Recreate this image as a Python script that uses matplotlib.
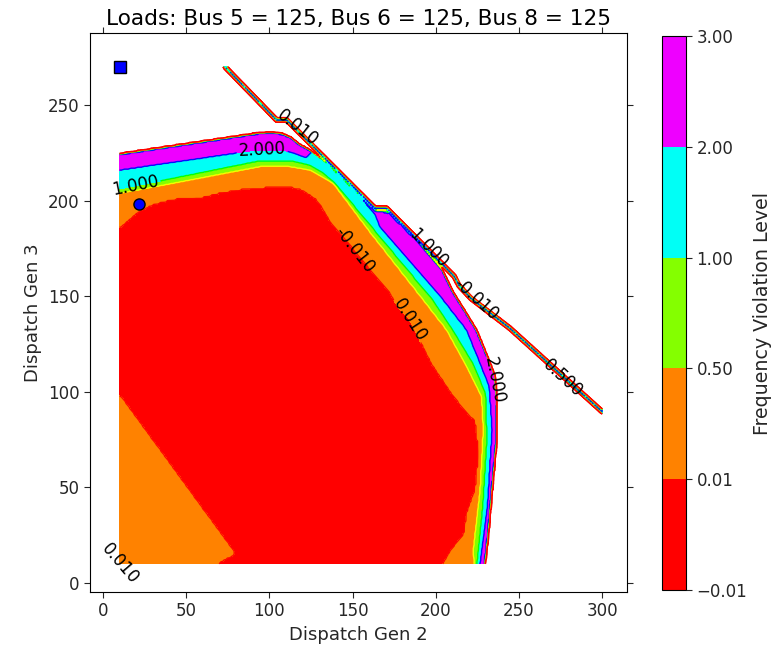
"""
Frequency violation map over the Gen 2 / Gen 3 dispatch plane
"""

import numpy as np
import matplotlib
matplotlib.use('Agg')
import matplotlib.pyplot as plt
import matplotlib.colors as mc
from matplotlib.path import Path

# contour levels and the value given to each band (red, orange, green, cyan, magenta)
levels = [-0.01, 0.01, 0.5, 1.0, 2.0, 3.0]
band_vals = [0.0, 0.25, 0.75, 1.5, 2.5]
outside_val = -1.0

# dispatch grid
gen2 = np.arange(10, 301, 1.0)
gen3 = np.arange(10, 271, 1.0)

# band edges (outer edge first)
edge_magenta = [(0, 0), (0, 224.5), (10, 224.5), (94.4, 235.5), (102, 235.8), (108, 235),
                (113, 233), (118, 229.5), (124.4, 226.5), (135, 219.5), (150, 206.5),
                (163.5, 195), (171.5, 194), (190.5, 177.5), (203.5, 164.5), (210.5, 152),
                (217, 143), (224.5, 132.3), (232.6, 115), (235.6, 108), (236.6, 95),
                (236.6, 75), (234, 50), (231.5, 25), (229.6, 10), (229.4, 0)]
edge_cyan = [(0, 0), (0, 216), (10, 216), (94.4, 226.7), (108, 226.5), (116, 224.5),
             (122, 222.5), (125, 225.5), (135, 219.5), (150, 206.5), (163.5, 193),
             (166, 187), (204.5, 148), (218.5, 132.3), (226.6, 114.9), (232.1, 102.7),
             (233.8, 80), (231, 40), (226.6, 10), (226.4, 0)]
edge_green = [(0, 0), (0, 206.4), (10, 206.4), (94.4, 221.2), (112.4, 221.2), (124, 219),
              (132, 215), (140, 209), (198.5, 148), (210.5, 132.3), (222.5, 115),
              (230.2, 99.2), (231, 74.8), (228.5, 40), (225, 10), (224.8, 0)]
edge_orange = [(0, 0), (0, 203.8), (10, 203.8), (94.4, 217.8), (112.4, 217.8), (124.4, 216),
               (138.4, 209), (160, 184), (192.5, 148), (206.5, 132.3), (218.5, 113.2),
               (227.5, 97.5), (228.5, 80), (226.6, 48.6), (222.5, 17.3), (223, 10), (223, 0)]
edge_red = [(0, 187), (10, 187), (20.7, 195), (30, 199), (42.3, 201.7), (58.3, 202.4),
            (70, 205), (84.3, 207), (104.3, 208.2), (112.4, 208.2), (120.4, 206.4),
            (128.4, 201.7), (132.4, 197), (138.5, 188), (142.4, 184.6), (160, 166),
            (172.5, 153.2), (178.5, 144.5), (184.5, 139.3), (198.5, 114.9), (210, 100),
            (218.5, 90.5), (224.5, 85.3), (226.6, 67.8), (224.5, 48.6), (219.6, 36.5),
            (217.6, 25.1), (209.6, 16.4), (205.5, 10), (205, 0), (68, 0), (68.3, 10),
            (70, 12), (78.3, 15.5), (10, 97), (0, 97)]

# thin feasible strip along the upper right
ridge = [(73.3, 270), (104.3, 242.2), (110.4, 242.2), (163.5, 196), (170.4, 196),
         (211, 160.5), (214, 155.5), (221, 149), (244.6, 133.2), (300, 89.6)]

# operating points
square_pt = (10, 270)
circle_pt = (21.6, 198)

# where the contour labels sit
label_spots = {
    -0.01: [(223.6, 148.0)],
    0.01: [(118.4, 239.5), (184.5, 137.6), (10.5, 10.5)],
    0.5: [(275.8, 106.2)],
    1.0: [(19.2, 209.0), (197.0, 176.5)],
    2.0: [(95.6, 226.5), (237.5, 106.2)],
}


def coverage(edge, pts, box=2.0, sub=4):
    """fraction of a small box round each grid point that lies inside edge"""
    path = Path(edge)
    offs = (np.arange(sub) + 0.5) / sub * box - box / 2
    cov = np.zeros(pts.shape[0])
    for ox in offs:
        for oy in offs:
            cov += path.contains_points(pts + [ox, oy])
    return cov / sub ** 2


def main():
    X, Y = np.meshgrid(gen2, gen3)
    pts = np.column_stack([X.ravel(), Y.ravel()])

    # build the field band by band, outer to inner
    edges = [edge_magenta, edge_cyan, edge_green, edge_orange, edge_red]
    vals = [outside_val] + band_vals[::-1]
    z = np.full(pts.shape[0], outside_val)
    for k, edge in enumerate(edges):
        box = 1.0 if k == 0 else 2.0
        z += coverage(edge, pts, box=box) * (vals[k + 1] - vals[k])

    # the ridge along the upper right
    rx = np.array([p[0] for p in ridge])
    ry = np.array([p[1] for p in ridge])
    dmin = np.full(pts.shape[0], np.inf)
    for i in range(len(rx) - 1):
        x0, y0 = rx[i], ry[i]
        dx, dy = rx[i + 1] - x0, ry[i + 1] - y0
        t = ((pts[:, 0] - x0) * dx + (pts[:, 1] - y0) * dy) / (dx * dx + dy * dy)
        t = np.clip(t, 0, 1)
        d = np.hypot(pts[:, 0] - (x0 + t * dx), pts[:, 1] - (y0 + t * dy))
        dmin = np.minimum(dmin, d)
    ridge_z = outside_val + (band_vals[-1] - outside_val) * np.clip((1.6 - dmin) / 1.5, 0, 1)
    z = np.maximum(z, ridge_z)

    Z = z.reshape(X.shape)
    # the corner cell is below the orange band
    Z[0, 0] = band_vals[0]

    fig = plt.figure(figsize=(7.8, 6.51), dpi=100)
    ax = fig.add_axes([0.1154, 0.0906, 0.6885, 0.8587])
    cax = fig.add_axes([0.8487, 0.0937, 0.0308, 0.851])

    norm = mc.Normalize(levels[0], levels[-1])
    cf = ax.contourf(X, Y, Z, levels, cmap='hsv', norm=norm)

    # one line set per level so each can be labelled at chosen spots;
    # high levels first so the low (red) lines end up on the outside edges
    for lev in levels[-2::-1]:
        cs = ax.contour(X, Y, Z, [lev], cmap='hsv', norm=norm, linewidths=1.0)
        if lev in label_spots:
            cs.clabel(manual=label_spots[lev], fmt='%1.3f', colors='k',
                      fontsize=12, inline=True)
    ax.text(151.4, 174.2, '-0.010', rotation=-52, ha='center', va='center',
            fontsize=12, color='k')

    ax.plot(square_pt[0], square_pt[1], 's', color='b', mec='k', ms=8)
    ax.plot(circle_pt[0], circle_pt[1], 'o', color='b', mec='k', ms=8)

    ax.set_xlim(-7.8, 314.9)
    ax.set_ylim(-4.7, 287.7)
    ax.set_xticks(np.arange(0, 301, 50))
    ax.set_yticks(np.arange(0, 251, 50))
    ax.tick_params(direction='out', length=4, top=True, right=True,
                   labelsize=12, colors='0.15')
    ax.set_xlabel('Dispatch Gen 2', fontsize=13, color='0.15')
    ax.set_ylabel('Dispatch Gen 3', fontsize=13, color='0.15')
    ax.set_title('Loads: Bus 5 = 125, Bus 6 = 125, Bus 8 = 125', fontsize=15.6)

    cbar = fig.colorbar(cf, cax=cax)
    cbar.set_label('Frequency Violation Level', fontsize=13.7, color='0.15')
    cbar.ax.tick_params(direction='out', length=4, labelsize=12, colors='0.15')

    fig.savefig('out.png', dpi=100)


main()
